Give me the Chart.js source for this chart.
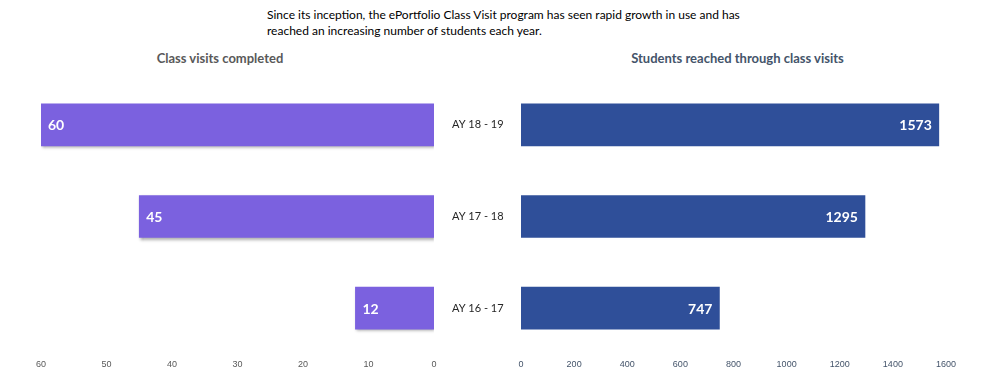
<!DOCTYPE html>
<html>
<head>
<meta charset="utf-8">
<script src="https://cdn.jsdelivr.net/npm/chart.js@4.4.1/dist/chart.umd.min.js"></script>
<style>
    body { margin: 0; background: #fff; width: 993px; height: 387px; position: relative; overflow: hidden; font-family: Lato, sans-serif; }
    #intro { position: absolute; left: 267px; top: 7px; font-size: 12px; line-height: 16px; color: #000; }
    .title { position: absolute; top: 50px; font-weight: bold; font-size: 13px; }
    #leftTitle { left: 0; width: 440px; text-align: center; color: #595959; }
    #rightTitle { left: 521px; width: 433px; text-align: center; color: #44546A; }
    #leftWrap { position: absolute; left: 0; top: 0; width: 530px; height: 387px; }
    #rightWrap { position: absolute; left: 500px; top: 0; width: 493px; height: 387px; }
</style>
</head>
<body>
<div id="intro">Since its inception, the ePortfolio Class Visit program has seen rapid growth in use and has<br>reached an increasing number of students each year.</div>
<div class="title" id="leftTitle">Class visits completed</div>
<div class="title" id="rightTitle">Students reached through class visits</div>
<div id="leftWrap"><canvas id="leftChart"></canvas></div>
<div id="rightWrap"><canvas id="rightChart"></canvas></div>
<script>
// Data
const years = ["AY 18 - 19", "AY 17 - 18", "AY 16 - 17"];
const classVisits = [60, 45, 12];
const studentsReached = [1573, 1295, 747];
const visitTicks = [0, 10, 20, 30, 40, 50, 60];
const studentTicks = [0, 200, 400, 600, 800, 1000, 1200, 1400, 1600];

// Shadow under bars + white value labels at the bar end
function barLabels(withShadow) {
    return {
        id: "barLabels",
        beforeDatasetsDraw(chart) {
            const ctx = chart.ctx;
            ctx.save();
            if (withShadow) {
                ctx.shadowColor = "rgba(0, 0, 0, 0.35)";
                ctx.shadowOffsetX = 1;
                ctx.shadowOffsetY = 2;
                ctx.shadowBlur = 3;
            }
        },
        afterDatasetsDraw(chart) {
            const ctx = chart.ctx;
            ctx.restore();
            const meta = chart.getDatasetMeta(0);
            const values = chart.data.datasets[0].data;
            ctx.save();
            ctx.fillStyle = "#ffffff";
            ctx.font = "bold 14px Lato, sans-serif";
            ctx.textBaseline = "middle";
            meta.data.forEach((bar, i) => {
                if (bar.x < bar.base) {
                    ctx.textAlign = "left";
                    ctx.fillText(values[i], bar.x + 7, bar.y + 1);
                } else {
                    ctx.textAlign = "right";
                    ctx.fillText(values[i], bar.x - 7, bar.y + 1);
                }
            });
            ctx.restore();
        }
    };
}

const common = {
    responsive: true,
    maintainAspectRatio: false,
    animation: false,
    indexAxis: "y",
    plugins: { legend: { display: false }, tooltip: { enabled: false } }
};

function valueAxis(tickValues, color) {
    return {
        min: tickValues[0],
        max: tickValues[tickValues.length - 1],
        afterBuildTicks: axis => { axis.ticks = tickValues.map(v => ({ value: v })); },
        afterFit: axis => { axis.height = 18; },
        grid: { display: false, drawTicks: false },
        border: { display: false },
        ticks: {
            color: color,
            font: { size: 9, family: "Liberation Sans" },
            padding: 5,
            callback: v => String(v)
        }
    };
}

// Left chart: class visits (reversed axis), categories on its right side
new Chart(document.getElementById("leftChart").getContext("2d"), {
    type: "bar",
    data: {
        labels: years,
        datasets: [{
            data: classVisits,
            backgroundColor: "#7B61DF",
            barThickness: 42
        }]
    },
    options: {
        ...common,
        layout: { padding: { left: 41, top: 79, bottom: 15, right: 0 } },
        scales: {
            x: { ...valueAxis(visitTicks, "#595959"), reverse: true },
            y: {
                position: "right",
                grid: { display: false, drawTicks: false },
                border: { display: false },
                afterFit: axis => { axis.width = 96; },
                ticks: { color: "#262626", font: { size: 11, family: "Lato" }, crossAlign: "center", padding: 18 }
            }
        }
    },
    plugins: [barLabels(true)]
});

// Right chart: students reached
new Chart(document.getElementById("rightChart").getContext("2d"), {
    type: "bar",
    data: {
        labels: years,
        datasets: [{
            data: studentsReached,
            backgroundColor: "#2F4F99",
            barThickness: 42
        }]
    },
    options: {
        ...common,
        layout: { padding: { left: 21, top: 79, bottom: 15, right: 47 } },
        scales: {
            x: valueAxis(studentTicks, "#44546A"),
            y: { display: false }
        }
    },
    plugins: [barLabels(false)]
});
</script>
</body>
</html>
